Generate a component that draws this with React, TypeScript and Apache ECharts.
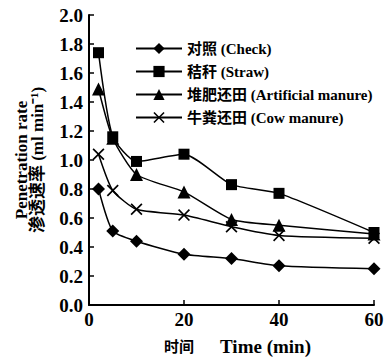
import React, { useEffect, useRef } from "react";
import * as echarts from "echarts";

const times = [2, 5, 10, 20, 30, 40, 60];
const seriesNames = ["对照 (Check)", "秸秆 (Straw)", "堆肥还田 (Artificial manure)", "牛粪还田 (Cow manure)"];
const checkVals = [0.8, 0.51, 0.44, 0.35, 0.32, 0.27, 0.25];
const strawVals = [1.74, 1.16, 0.99, 1.04, 0.83, 0.77, 0.5];
const artificialVals = [1.49, 1.15, 0.9, 0.78, 0.59, 0.55, 0.49];
const cowVals = [1.04, 0.79, 0.66, 0.62, 0.54, 0.48, 0.46];
const xTicks = [0, 20, 40, 60];

const FONT = "'Liberation Serif', 'Noto Sans CJK SC', serif";
const CROSS = "path://M0,1L1,0L5,4L9,0L10,1L6,5L10,9L9,10L5,6L1,10L0,9L4,5Z";

export default function App() {
  const ref = useRef<HTMLDivElement>(null);
  useEffect(() => {
    if (!ref.current) return;
    const chart = echarts.init(ref.current, null, { renderer: "svg" });
    const mk = (name: string, vals: number[], symbol: string, size: number) => ({
      name,
      type: "line",
      data: vals.map((v, i) => [times[i], v]),
      symbol,
      symbolSize: size,
      smooth: 0.2,
      lineStyle: { color: "#000", width: 1.5 },
      itemStyle: { color: "#000", borderColor: "#000", borderWidth: 0 },
    });
    chart.setOption({
      animation: false,
      backgroundColor: "#fff",
      grid: { left: 89, right: 17, top: 15, bottom: 57, containLabel: false, outerBoundsMode: "none" },
      legend: {
        orient: "vertical",
        left: 130,
        top: 36,
        itemWidth: 46,
        itemHeight: 14,
        itemGap: 8,
        textStyle: { fontFamily: FONT, fontWeight: "bold", fontSize: 15, color: "#000" },
        data: seriesNames,
      },
      xAxis: {
        type: "value",
        min: 0,
        max: 60,
        interval: 20,
        splitLine: { show: false },
        axisLine: { lineStyle: { color: "#000", width: 2 } },
        axisTick: { inside: true, length: 5, lineStyle: { color: "#000", width: 1.5 } },
        axisLabel: {
          color: "#000",
          fontFamily: FONT,
          fontWeight: "bold",
          fontSize: 19,
          margin: 5,
          formatter: (v: number) => (xTicks.includes(v) ? String(v) : ""),
        },
        name: "{c|时间}{e|Time (min)}",
        nameLocation: "middle",
        nameGap: 32,
        nameTextStyle: {
          color: "#000",
          fontFamily: FONT,
          fontWeight: "bold",
          fontSize: 19,
          padding: [0, 0, 0, 12],
          rich: {
            c: { fontFamily: FONT, fontWeight: "bold", fontSize: 15, color: "#000", padding: [0, 26, 0, 0] },
            e: { fontFamily: FONT, fontWeight: "bold", fontSize: 19, color: "#000" },
          },
        },
      },
      yAxis: {
        type: "value",
        min: 0,
        max: 2,
        interval: 0.2,
        splitLine: { show: false },
        axisLine: { show: true, lineStyle: { color: "#000", width: 2 } },
        axisTick: { show: true, inside: true, length: 5, lineStyle: { color: "#000", width: 1.5 } },
        axisLabel: {
          color: "#000",
          fontFamily: FONT,
          fontWeight: "bold",
          fontSize: 19,
          margin: 6,
          formatter: (v: number) => v.toFixed(1),
        },
        name: "Penetration rate\n渗透速率 (ml min⁻¹)",
        nameLocation: "middle",
        nameRotate: 90,
        nameGap: 44,
        nameTextStyle: { color: "#000", fontFamily: FONT, fontWeight: "bold", fontSize: 17, lineHeight: 16 },
      },
      series: [
        mk(seriesNames[0], checkVals, "diamond", 13),
        mk(seriesNames[1], strawVals, "rect", 11),
        mk(seriesNames[2], artificialVals, "triangle", 13),
        mk(seriesNames[3], cowVals, CROSS, 12),
      ],
    });
    return () => chart.dispose();
  }, []);
  return (
    <div
      ref={ref}
      style={{ position: "fixed", left: 0, top: 0, width: 391, height: 362 }}
    />
  );
}
